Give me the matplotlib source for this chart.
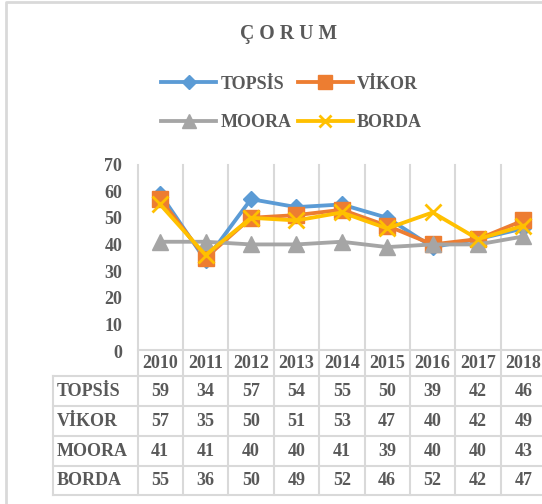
import matplotlib
matplotlib.use('Agg')
import matplotlib.pyplot as plt

# ---------------------------------------------------------------------------
# Data (read from the reference data table)
# ---------------------------------------------------------------------------
years = ['2010', '2011', '2012', '2013', '2014', '2015', '2016', '2017', '2018']
topsis = [59, 34, 57, 54, 55, 50, 39, 42, 46]
vikor = [57, 35, 50, 51, 53, 47, 40, 42, 49]
moora = [41, 41, 40, 40, 41, 39, 40, 40, 43]
borda = [55, 36, 50, 49, 52, 46, 52, 42, 47]
series_names = ['TOPSİS', 'VİKOR', 'MOORA', 'BORDA']
y_ticks = [0, 10, 20, 30, 40, 50, 60, 70]

plt.rcParams['font.family'] = ['Liberation Serif', 'DejaVu Serif']
plt.rcParams['font.weight'] = 'bold'

TXT = '#595959'
GRID = '#D9D9D9'
FS = 13

# layout in pixels
W, H = 542, 504
x0 = 137.5
col_w = 45.4
plot_top, plot_bot = 164.5, 351
rows = [350, 376, 406, 436, 466, 495]
lab_left = 52.5

fig = plt.figure(figsize=(W / 100, H / 100), dpi=100)
fig.patch.set_facecolor('white')

# ---------------------------------------------------------------------------
# Background layer: border, grid and data table lines
# ---------------------------------------------------------------------------
tax = fig.add_axes([0, 0, 1, 1])
tax.set_xlim(0, W)
tax.set_ylim(H, 0)
tax.axis('off')

tax.plot([6, 6, W + 5], [H + 5, 1.5, 1.5], color=GRID, lw=2, solid_capstyle='butt')

for i in range(len(years) + 1):
    xx = x0 + i * col_w
    tax.plot([xx, xx], [plot_top, rows[-1]], color=GRID, lw=1.5)
tax.plot([lab_left, lab_left], [rows[1], rows[-1]], color=GRID, lw=1.5)
tax.plot([x0, W + 5], [rows[0], rows[0]], color=GRID, lw=1.5)
for yy in rows[1:]:
    tax.plot([lab_left, W + 5], [yy, yy], color=GRID, lw=1.5)

# header row (years)
for i, yr in enumerate(years):
    tax.text(x0 + (i + 0.5) * col_w, (rows[0] + rows[1]) / 2, yr,
             ha='center', va='center', fontsize=FS, color=TXT)

# table body
table_vals = [topsis, vikor, moora, borda]
for r, (name, vals) in enumerate(zip(series_names, table_vals)):
    yc = (rows[r + 1] + rows[r + 2]) / 2
    tax.text(lab_left + 4.5, yc, name, ha='left', va='center', fontsize=FS, color=TXT)
    for i, v in enumerate(vals):
        tax.text(x0 + (i + 0.5) * col_w, yc, str(v),
                 ha='center', va='center', fontsize=FS, color=TXT)

# ---------------------------------------------------------------------------
# Line chart
# ---------------------------------------------------------------------------
ax = fig.add_axes([x0 / W, 1 - plot_bot / H, 9 * col_w / W, (plot_bot - plot_top) / H])
ax.patch.set_alpha(0)
ax.set_xlim(-0.5, 8.5)
ax.set_ylim(0, 70)
for s in ax.spines.values():
    s.set_visible(False)
ax.set_xticks([])
ax.set_yticks(y_ticks)
ax.tick_params(axis='y', length=0, pad=11, labelsize=FS, labelcolor=TXT)

styles = [
    dict(color='#5B9BD5', marker='D', ms=8),
    dict(color='#ED7D31', marker='s', ms=11.5),
    dict(color='#A5A5A5', marker='^', ms=11.5),
    dict(color='#FFC000', marker='x', ms=11, mew=2),
]
xs = list(range(len(years)))
handles = []
for name, vals, st in zip(series_names, table_vals, styles):
    ln, = ax.plot(xs, vals, lw=2.75, clip_on=False, label=name, **st)
    handles.append(ln)

# legend: row 1 TOPSİS / VİKOR, row 2 MOORA / BORDA
order = [0, 2, 1, 3]
leg = fig.legend([handles[k] for k in order], [series_names[k] for k in order],
                 ncol=2, loc='center', bbox_to_anchor=(291.5 / W, 1 - 103.5 / H),
                 frameon=False, fontsize=FS, labelcolor=TXT, handlelength=3.05,
                 handletextpad=0.22, columnspacing=0.35, labelspacing=1.2,
                 borderpad=0, markerscale=0.85)

fig.text(289 / W, 1 - 34.5 / H, 'Ç O R U M', ha='center', va='center',
         fontsize=14.2, color=TXT)

plt.savefig('out.png', dpi=100)
